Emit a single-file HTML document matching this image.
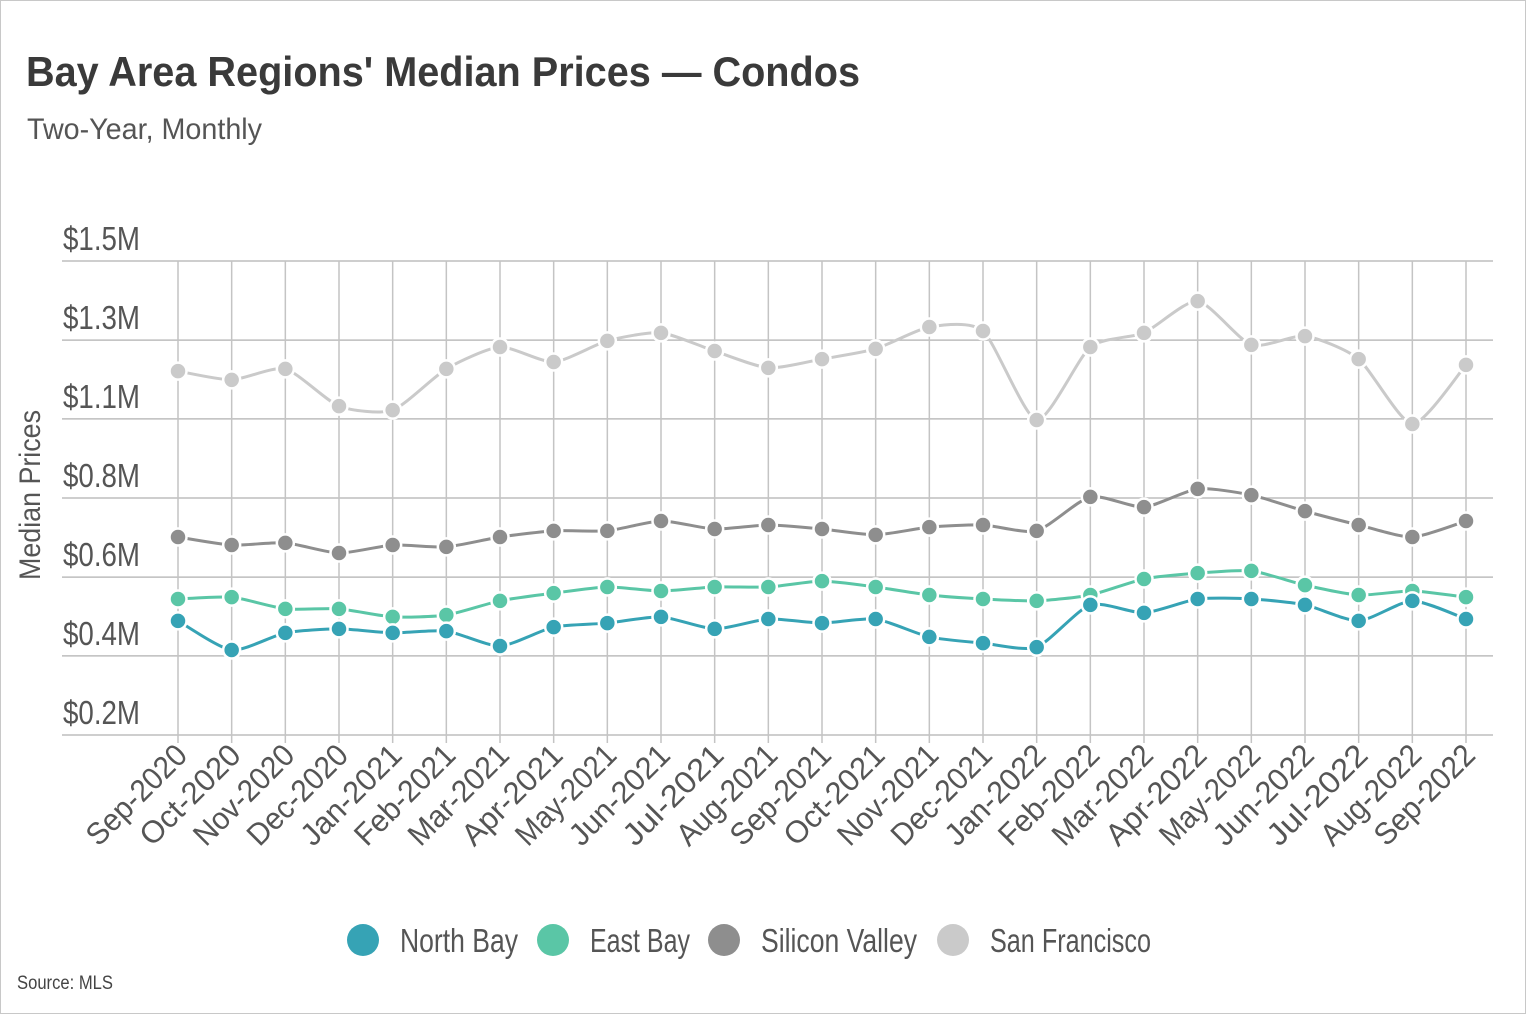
<!DOCTYPE html>
<html><head><meta charset="utf-8">
<style>
body{margin:0;background:#fff;width:1526px;height:1014px;overflow:hidden;position:relative;font-family:"Liberation Sans",sans-serif;}
#frame{position:absolute;left:0;top:0;width:1524px;height:1012px;border:1px solid #c8c8c8;}
</style></head>
<body>
<div id="frame"></div>
<svg id="chart" width="1526" height="1014" style="position:absolute;left:0;top:0">
<text x="26" y="86" font-size="42" font-weight="bold" fill="#3a3a3a" textLength="834" lengthAdjust="spacingAndGlyphs">Bay Area Regions' Median Prices — Condos</text>
<text x="27" y="139" font-size="30" fill="#555" textLength="235" lengthAdjust="spacingAndGlyphs">Two-Year, Monthly</text>
<text transform="translate(40,495) rotate(-90)" text-anchor="middle" font-size="30" fill="#555" textLength="170" lengthAdjust="spacingAndGlyphs">Median Prices</text>
<text x="17" y="989" font-size="19" fill="#444" textLength="96" lengthAdjust="spacingAndGlyphs">Source:  MLS</text>
<g id="grid"></g><g id="series"></g><g id="xlabels"></g><g id="legend"></g>
</svg>
<script>
const months=["Sep-2020","Oct-2020","Nov-2020","Dec-2020","Jan-2021","Feb-2021","Mar-2021","Apr-2021","May-2021","Jun-2021","Jul-2021","Aug-2021","Sep-2021","Oct-2021","Nov-2021","Dec-2021","Jan-2022","Feb-2022","Mar-2022","Apr-2022","May-2022","Jun-2022","Jul-2022","Aug-2022","Sep-2022"];
const sanFrancisco=[1.198,1.174,1.204,1.102,1.091,1.204,1.264,1.223,1.281,1.303,1.253,1.207,1.231,1.259,1.319,1.308,1.064,1.264,1.303,1.390,1.270,1.294,1.231,1.053,1.215];
const siliconValley=[0.743,0.721,0.727,0.699,0.721,0.716,0.743,0.760,0.760,0.787,0.765,0.776,0.765,0.749,0.770,0.776,0.760,0.853,0.825,0.875,0.858,0.814,0.776,0.743,0.787];
const eastBay=[0.573,0.578,0.546,0.546,0.524,0.529,0.568,0.589,0.606,0.595,0.606,0.606,0.622,0.606,0.584,0.573,0.568,0.584,0.628,0.644,0.650,0.611,0.584,0.595,0.578];
const northBay=[0.513,0.433,0.480,0.491,0.480,0.485,0.444,0.496,0.507,0.524,0.491,0.518,0.507,0.518,0.469,0.452,0.441,0.557,0.535,0.573,0.573,0.557,0.513,0.568,0.518];
const yTicks=[0.2,0.417,0.633,0.85,1.067,1.283,1.5];
const yTickLabels=["$0.2M","$0.4M","$0.6M","$0.8M","$1.1M","$1.3M","$1.5M"];
const seriesNames=["North Bay","East Bay","Silicon Valley","San Francisco"];
const seriesColors=["#36a3b5","#5ac6a6","#8e8e8e","#cacaca"];
const NS="http://www.w3.org/2000/svg";
const X0=178,X1=1466,Y0=735,Y1=261,VMIN=0.2,VMAX=1.5;
const xs=i=>X0+(X1-X0)*i/(months.length-1);
const ys=v=>Y0-(v-VMIN)/(VMAX-VMIN)*(Y0-Y1);
function mk(tag,attrs,parent){const e=document.createElementNS(NS,tag);for(const k in attrs)e.setAttribute(k,attrs[k]);parent.appendChild(e);return e;}
const grid=document.getElementById('grid');
yTicks.forEach((t,i)=>{
  const l=mk('line',{x1:62,x2:1493,y1:ys(t),y2:ys(t),stroke:'#bdbdbd','stroke-width':1.5},grid);
  
  
  const tx=mk('text',{x:63,y:ys(t)-11,'font-size':33,fill:'#555',textLength:77,lengthAdjust:'spacingAndGlyphs'},grid);
  tx.textContent=yTickLabels[i];
  
  
});
const xl=document.getElementById('xlabels');
months.forEach((m,i)=>{
  const l=mk('line',{x1:xs(i),x2:xs(i),y1:Y1,y2:Y0+8,stroke:'#c4c4c4','stroke-width':1.5},grid);
  
  
  const t=mk('text',{transform:`translate(${xs(i)+11},${Y0+22}) rotate(-45)`,'text-anchor':'end','font-size':31,fill:'#555',textLength:128,lengthAdjust:'spacingAndGlyphs'},xl);
  t.textContent=m;
  
  
});
function pathD(vals){
  const p=vals.map((v,i)=>[xs(i),ys(v)]);let d=`M${p[0][0]},${p[0][1]}`;
  for(let i=0;i<p.length-1;i++){const a=p[Math.max(0,i-1)],b=p[i],c=p[i+1],e=p[Math.min(p.length-1,i+2)];
    const c1=[b[0]+(c[0]-a[0])/9,b[1]+(c[1]-a[1])/9],c2=[c[0]-(e[0]-b[0])/9,c[1]-(e[1]-b[1])/9];
    d+=` C${c1[0]},${c1[1]} ${c2[0]},${c2[1]} ${c[0]},${c[1]}`;}
  return d;}
const sg=document.getElementById('series');
const allSeries=[sanFrancisco,siliconValley,eastBay,northBay];
const idx=[3,2,1,0];
allSeries.forEach((vals,k)=>{
  const c=seriesColors[idx[k]];
  const g=mk('g',{},sg);
  
  
  const p=mk('path',{d:pathD(vals),fill:'none',stroke:c,'stroke-width':3},g);
  
  
  vals.forEach((v,i)=>{
    const pt=mk('circle',{cx:xs(i),cy:ys(v),r:8.5,fill:c,stroke:'#fff','stroke-width':2.5},g);
    
    
  });
});
const lg=document.getElementById('legend');
const legX=[363,553,724,953];
const legW=[118,100,156,161];
seriesNames.forEach((n,i)=>{
  const g=mk('g',{},lg);
  
  
  mk('circle',{cx:legX[i],cy:940,r:16,fill:seriesColors[i]},g);
  const t=mk('text',{x:legX[i]+37,y:952,'font-size':33,fill:'#555',textLength:legW[i],lengthAdjust:'spacingAndGlyphs'},g);
  t.textContent=n;
});
</script>
</body></html>
